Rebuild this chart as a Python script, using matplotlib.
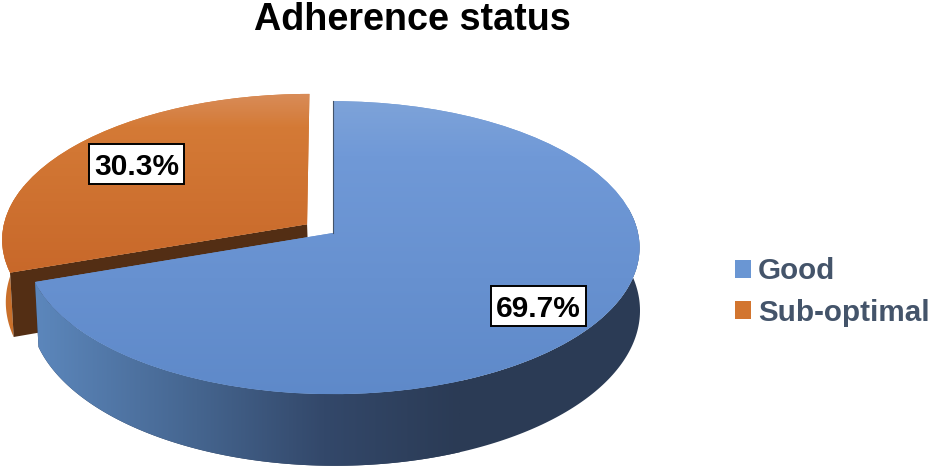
import numpy as np
import matplotlib
matplotlib.use('Agg')
import matplotlib.pyplot as plt
from matplotlib.colors import LinearSegmentedColormap
from matplotlib.patches import Patch, Polygon, Rectangle
from matplotlib.transforms import Transform

# data
categories = ['Good', 'Sub-optimal']
values = [69.7, 30.3]

plt.rcParams['font.family'] = ['Liberation Sans', 'DejaVu Sans']

# the pie is a unit circle, this tilts it into the picture (pixel coordinates)
CX, CY = 333, 233
A, B, K = 305, 145, 0.1


def project(x, y):
    w = 1 + K * y
    return CX + A * x / w, CY - B * y / w


def lower(px, py):
    # same ring, one slab thickness further down
    return CX + 2 + (px - CX) * 0.995, CY + (py - CY) * 1.06 + 62


class Tilt(Transform):
    input_dims = 2
    output_dims = 2

    def transform_non_affine(self, xy):
        xy = np.asarray(xy)
        return np.column_stack(project(xy[:, 0], xy[:, 1]))


def ring(wedge, t1, t2):
    t = np.radians(np.linspace(t1, t2, 200))
    return project(wedge.center[0] + np.cos(t), wedge.center[1] + np.sin(t))


def wall(wedge, t1, t2, **kw):
    px, py = ring(wedge, t1, t2)
    bx, by = lower(px, py)
    pts = np.r_[np.c_[px, py], np.c_[bx, by][::-1]]
    return ax.add_patch(Polygon(pts, closed=True, **kw))


def shade(clip, stops, extent, vertical, zorder):
    cmap = LinearSegmentedColormap.from_list('s', stops)
    g = np.linspace(0, 1, 256)
    g = g[:, None] if vertical else g[None, :]
    im = ax.imshow(g, cmap=cmap, extent=extent, aspect='auto', origin='upper',
                   vmin=0, vmax=1, zorder=zorder)
    im.set_clip_path(clip)


fig = plt.figure(figsize=(9.31, 4.69), dpi=100)
ax = fig.add_axes([0, 0, 1, 1])

wedges, _ = ax.pie(values, startangle=90, counterclock=False, explode=[0, 0.105],
                   radius=1, colors=['#6a96d3', '#d2752f'])
blue, orange = wedges
tilt = Tilt() + ax.transData
blue.set_transform(tilt)
orange.set_transform(tilt)
blue.set_linewidth(0)
orange.set_linewidth(0)

# orange slice: outer wall, cut face, then the top
wall(orange, orange.theta2 - 35, orange.theta2, fc='#c96f2a', ec='none', zorder=1)
apex = project(*orange.center)
corner = ring(orange, orange.theta2, orange.theta2)
corner = (corner[0][0], corner[1][0])
ax.add_patch(Polygon([corner, apex, lower(*apex), lower(*corner)], closed=True,
                     fc='#532e14', ec='none', zorder=2))
orange.set_zorder(3)
shade(orange, [(0, '#d98e5c'), (0.2, '#d47a36'), (1, '#c8682a')], (0, 320, 275, 90), True, 3.1)

# blue slice
side = wall(blue, blue.theta1, 10, fc='#2b3b55', ec='none', zorder=4)
shade(side, [(0, '#5c87bc'), (0.38, '#45658f'), (0.68, '#33486a'), (1, '#2b3b55')],
      (35, 460, 470, 230), False, 4.1)
blue.set_zorder(5)
shade(blue, [(0, '#7fa4d9'), (0.2, '#7099d7'), (1, '#5e89c9')], (25, 645, 400, 95), True, 5.1)
top_x, top_y = project(0, 1)
ax.plot([CX, top_x], [CY, top_y], color='#44546a', lw=0.8, zorder=6)

# value boxes
for v, (x, y) in zip(values, [(538, 306), (136.5, 164)]):
    ax.add_patch(Rectangle((x - 47.5, y - 20), 95, 40, fc='white', ec='black', lw=1.4, zorder=7))
    ax.text(x, y, f'{v:.1f}%', ha='center', va='center_baseline', fontsize=21.5,
            fontweight='bold', color='black', zorder=8)

ax.text(412, 20, 'Adherence status', ha='center', va='center', fontsize=27.2,
        fontweight='bold', color='black')

handles = [Patch(fc='#6a96d3'), Patch(fc='#d2752f')]
ax.legend(handles, categories, loc='center left', bbox_to_anchor=(735 / 931, 1 - 292 / 469),
          frameon=False, labelcolor='#44546a', borderpad=0, borderaxespad=0,
          handlelength=0.54, handleheight=0.54, handletextpad=0.24, labelspacing=0.44,
          prop={'weight': 'bold', 'size': 21.3})

ax.set_aspect('auto')
ax.set_xlim(0, 931)
ax.set_ylim(469, 0)
ax.axis('off')

fig.savefig('out.png', dpi=100)
